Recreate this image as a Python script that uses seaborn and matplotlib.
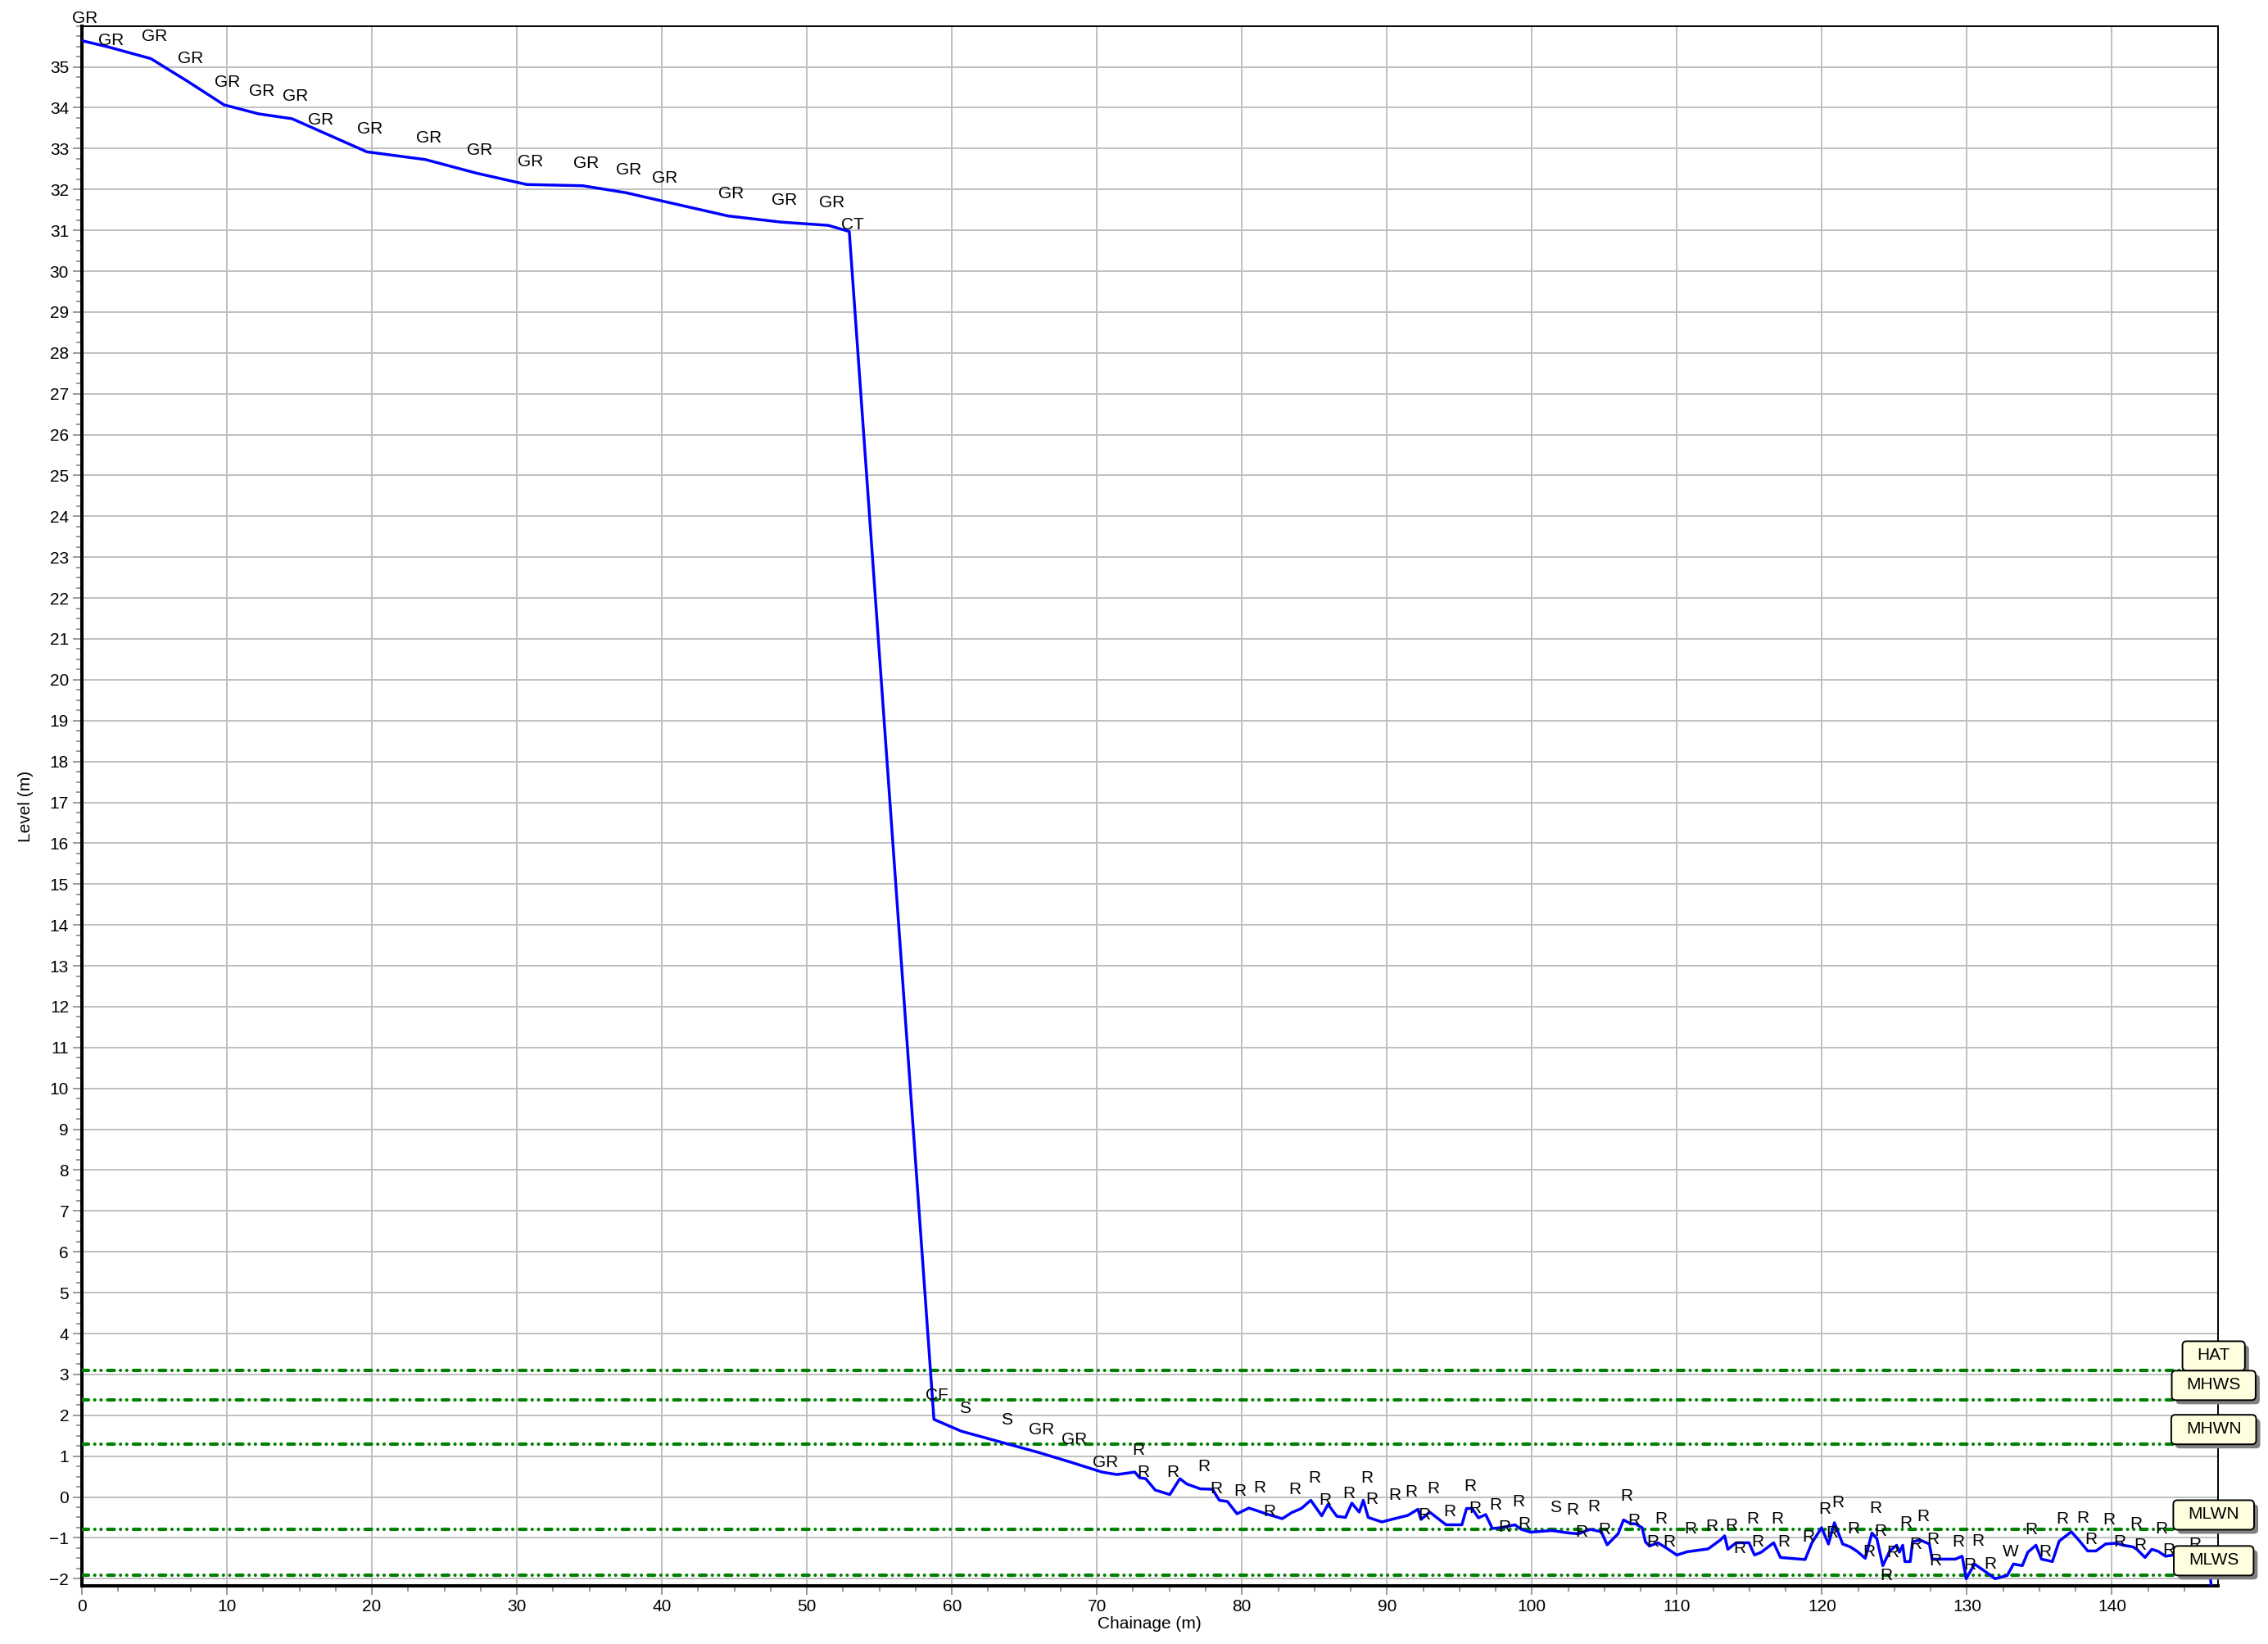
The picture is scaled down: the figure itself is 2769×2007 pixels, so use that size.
import matplotlib
matplotlib.use("Agg")
import matplotlib.pyplot as plt
import pandas as pd
import seaborn as sns
from matplotlib.patches import FancyBboxPatch
from matplotlib.transforms import IdentityTransform
from matplotlib.ticker import MultipleLocator

# ---------------------------------------------------------------------------
# Surveyed beach / cliff profile: chainage (m), level (m) and feature code
# ---------------------------------------------------------------------------
chainage = [
    0.00, 1.78, 4.76, 7.27, 9.80, 12.18, 14.49, 16.27, 19.65, 23.70,
    27.19, 30.68, 34.53, 37.51, 39.97, 44.57, 48.22, 51.48, 52.92,
    58.76, 60.65, 63.53, 65.98, 68.22, 70.35, 71.38, 72.61, 72.95, 73.36,
    74.02, 75.03, 75.72, 76.19, 77.13, 77.97, 78.44, 79.00, 79.66, 80.48,
    81.00, 81.65, 82.78, 83.44, 84.10, 84.75, 85.50, 85.94, 86.54, 87.14,
    87.58, 88.09, 88.37, 88.71, 89.65, 90.30, 91.44, 92.14, 92.35, 92.95,
    94.08, 95.17, 95.49, 95.87, 96.31, 96.81, 97.27, 97.89, 98.83, 99.26,
    99.91, 101.37, 102.55, 103.21, 104.02, 104.78, 105.19, 105.94, 106.32, 106.79,
    107.17, 107.60, 107.83, 108.11, 108.68, 109.24, 109.99, 110.71, 112.15, 113.00,
    113.29, 113.51, 114.08, 114.97, 115.35, 115.82, 116.67, 117.14, 118.84, 119.31,
    119.98, 120.45, 120.86, 121.43, 121.95, 122.43, 122.99, 123.45, 123.79, 124.20,
    124.68, 125.15, 125.34, 125.57, 125.72, 126.09, 126.25, 126.75, 127.41, 127.60,
    129.20, 129.67, 129.95, 130.52, 131.37, 131.94, 132.78, 133.21, 133.82, 134.20,
    134.76, 135.14, 135.89, 136.36, 137.20, 137.75, 138.33, 138.90, 139.56, 140.31,
    140.78, 141.44, 141.72, 142.28, 142.75, 143.19, 143.70, 144.60, 145.50, 146.60,
    147.00,
]
level = [
    35.64, 35.49, 35.20, 34.65, 34.07, 33.85, 33.73, 33.45, 32.92, 32.73,
    32.40, 32.12, 32.09, 31.92, 31.72, 31.35, 31.20, 31.12, 30.97,
    1.90, 1.61, 1.33, 1.09, 0.85, 0.61, 0.55, 0.61, 0.47, 0.45,
    0.17, 0.06, 0.45, 0.32, 0.20, 0.19, -0.08, -0.11, -0.41, -0.27,
    -0.33, -0.41, -0.53, -0.38, -0.28, -0.08, -0.46, -0.18, -0.47, -0.50,
    -0.15, -0.37, -0.08, -0.50, -0.61, -0.55, -0.45, -0.30, -0.55, -0.37,
    -0.68, -0.68, -0.28, -0.28, -0.51, -0.43, -0.77, -0.75, -0.68, -0.79,
    -0.86, -0.82, -0.88, -0.90, -0.79, -0.85, -1.17, -0.90, -0.56, -0.65,
    -0.66, -0.75, -1.10, -1.20, -1.12, -1.24, -1.42, -1.34, -1.27, -1.05,
    -0.95, -1.28, -1.12, -1.12, -1.42, -1.35, -1.12, -1.48, -1.53, -1.12,
    -0.75, -1.15, -0.63, -1.15, -1.22, -1.33, -1.50, -0.88, -1.02, -1.68,
    -1.32, -1.18, -1.35, -1.18, -1.58, -1.58, -1.10, -1.05, -1.15, -1.52,
    -1.52, -1.45, -2.00, -1.64, -1.85, -2.00, -1.92, -1.64, -1.68, -1.35,
    -1.18, -1.52, -1.58, -1.08, -0.85, -1.07, -1.32, -1.32, -1.15, -1.13,
    -1.18, -1.22, -1.28, -1.48, -1.28, -1.33, -1.45, -1.40, -1.38, -1.45,
    -2.60,
]
point_code = [
    "GR", "GR", "GR", "GR", "GR", "GR", "GR", "GR", "GR", "GR",
    "GR", "GR", "GR", "GR", "GR", "GR", "GR", "GR", "CT",
    "CF", "S", "S", "GR", "GR", "GR", "", "R", "R", "",
    "", "R", "", "", "R", "R", "", "", "R", "",
    "R", "R", "", "R", "", "R", "R", "", "", "R",
    "", "", "R", "R", "", "R", "R", "", "R", "R",
    "R", "", "R", "R", "", "", "R", "R", "R", "R",
    "", "S", "R", "R", "R", "R", "", "", "R", "R",
    "", "", "", "R", "R", "R", "", "R", "R", "",
    "", "R", "R", "R", "R", "", "R", "R", "R", "",
    "R", "R", "R", "", "R", "", "R", "R", "R", "R",
    "R", "", "", "R", "", "", "R", "R", "R", "R",
    "R", "", "R", "R", "R", "", "W", "", "", "R",
    "", "R", "", "R", "", "R", "R", "", "R", "R",
    "", "R", "R", "", "", "R", "R", "", "R", "",
    "",
]
# height of each code label's baseline above its survey point (pixels)
label_lift = [
    22, 2, 22, 22, 22, 22, 22, 7, 22, 21,
    22, 22, 22, 22, 22, 22, 21, 22, 3,
    24, 22, 22, 22, 22, 6, 0, 21, 1, 0,
    0, 22, 0, 0, 22, -5, 0, 0, 22, 0,
    22, -3, 0, 23, 0, 22, 13, 0, 0, 23,
    0, 0, 22, 16, 0, 24, 23, 0, 0, 23,
    10, 0, 22, -5, 0, 0, 23, -5, 22, 1,
    0, 22, 22, -4, 22, -3, 0, 0, 23, -2,
    0, 0, 0, -1, 23, 1, 0, 22, 22, 0,
    0, 23, -13, 23, 10, 0, 23, 13, 22, 0,
    17, 8, 19, 0, 16, 0, 2, 24, 3, -18,
    -8, 0, 0, 21, 0, 0, -9, 23, 0, -8,
    15, 0, 11, 22, 5, 0, 23, 0, 0, 22,
    0, 3, 0, 21, 0, 22, 8, 0, 24, -4,
    0, 22, -1, 0, 0, 22, 2, 0, 5, 0,
    0,
]

# Tidal datum levels (m)
tide_names = ["HAT", "MHWS", "MHWN", "MLWN", "MLWS"]
tide_levels = [3.09, 2.37, 1.29, -0.80, -1.92]

# ---------------------------------------------------------------------------
sns.set_theme(style="white")
plt.rcParams["font.family"] = ["Liberation Sans", "DejaVu Sans"]
plt.rcParams["lines.scale_dashes"] = False

W, H = 2769, 2007
fig = plt.figure(figsize=(W / 100, H / 100), dpi=100)
fig.patch.set_facecolor("white")
ax = fig.add_axes([100 / W, 1 - 1936.3 / H, (2707.7 - 100) / W, (1936.3 - 31.7) / H])
ax.set_facecolor("white")

profile = pd.DataFrame({"Chainage": chainage, "Level": level})
sns.lineplot(data=profile, x="Chainage", y="Level", sort=False, estimator=None,
             color="#0000FF", linewidth=2.5, ax=ax, zorder=4)

for lv in tide_levels:
    ax.axhline(lv, color="#008000", lw=3.0,
               ls=(0, (5.8, 5.5, 0.01, 5.5, 0.01, 5.8)),
               dash_capstyle="round", zorder=3)

for x, y, c, lift in zip(chainage, level, point_code, label_lift):
    if c:
        ax.annotate(c, xy=(x, y), xytext=(4, lift), textcoords="offset pixels",
                    ha="center", va="baseline", fontsize=15, color="black",
                    zorder=6)

ax.set_xlim(0, 147.3)
ax.set_ylim(-2.18, 36.0)
ax.set_xticks(range(0, 141, 10))
ax.set_yticks(range(-2, 36))
ax.xaxis.set_minor_locator(MultipleLocator(2.5))
ax.yaxis.set_minor_locator(MultipleLocator(0.25))
ax.grid(True, which="major", color="#c0c0c0", lw=1.4)
ax.set_axisbelow(True)

ax.tick_params(which="both", bottom=True, left=True, top=False, right=False,
               direction="out", color="#7f7f7f", width=1.1,
               labelsize=15, labelcolor="black")
ax.tick_params(which="major", length=8, pad=3.5)
ax.tick_params(which="minor", length=5)

for side in ("left", "bottom"):
    ax.spines[side].set_linewidth(2.9)
    ax.spines[side].set_color("black")
for side in ("top", "right"):
    ax.spines[side].set_linewidth(1.4)
    ax.spines[side].set_color("black")
    ax.spines[side].set_visible(True)

ax.set_xlabel("Chainage (m)", fontsize=15, labelpad=1, color="black")
ax.set_ylabel("Level (m)", fontsize=15, labelpad=14, color="black")

# Tidal level tags sitting on the right-hand axis
renderer = fig.canvas.get_renderer()
x_right = ax.transAxes.transform((1, 0))[0]
for name, lv in zip(tide_names, tide_levels):
    y_line = ax.transData.transform((0, lv))[1]
    tag = fig.text(0, 0, name, fontsize=15, color="black",
                   ha="center", va="center", zorder=12)
    ext = tag.get_window_extent(renderer)
    bw, bh = ext.width + 36, 36
    cx = x_right - 5
    x0 = cx - bw / 2
    shadow = FancyBboxPatch((x0 + 5, y_line - 5), bw, bh,
                            boxstyle="round,pad=0,rounding_size=5",
                            transform=IdentityTransform(),
                            fc="#808080", ec="none", zorder=10)
    box = FancyBboxPatch((x0, y_line), bw, bh,
                         boxstyle="round,pad=0,rounding_size=5",
                         transform=IdentityTransform(),
                         fc="#FFFFE0", ec="black", lw=1.4, zorder=11)
    fig.add_artist(shadow)
    fig.add_artist(box)
    tag.set_position((cx / W, (y_line + bh / 2 + 1) / H))

fig.savefig("out.png", dpi=100)
